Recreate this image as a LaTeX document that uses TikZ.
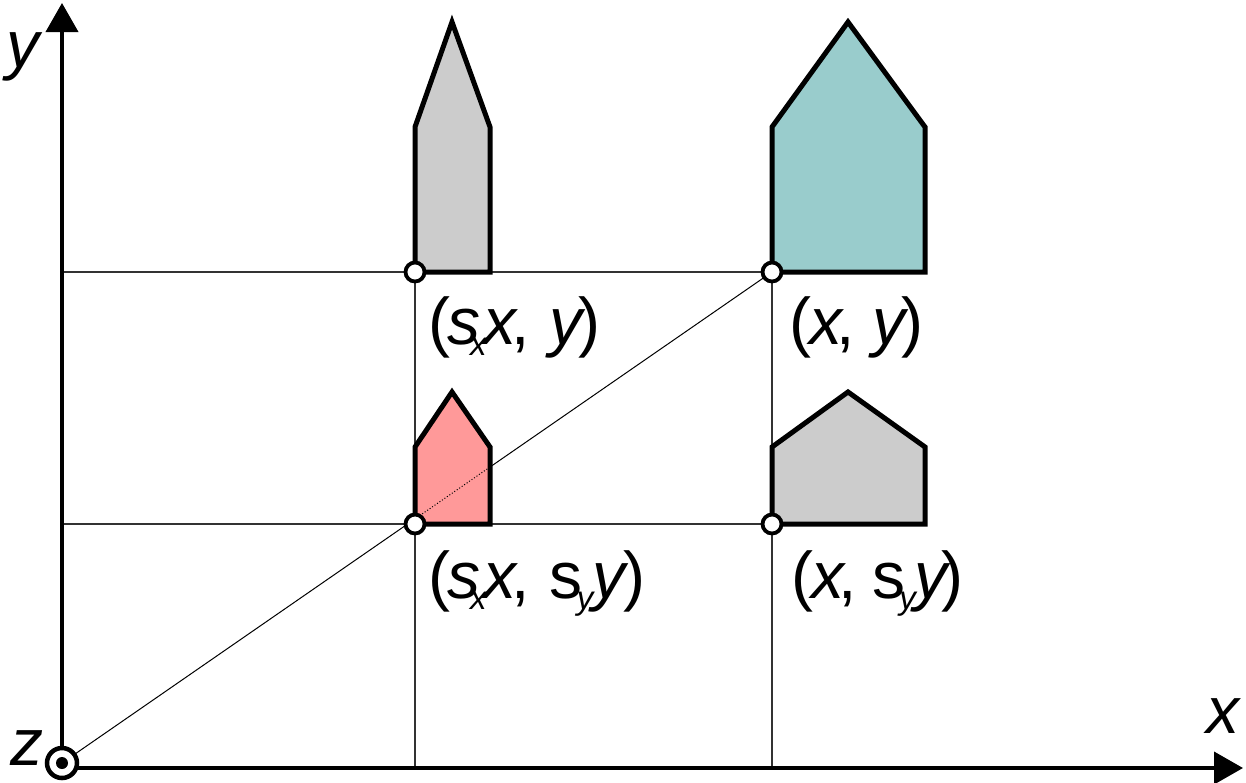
\documentclass[tikz,border=0pt]{standalone}
\usepackage{fontspec}
\setmainfont{Liberation Sans}
\usetikzlibrary{arrows.meta}
\definecolor{housegray}{HTML}{CCCCCC}
\definecolor{houseteal}{HTML}{99CCCC}
\definecolor{housepink}{HTML}{FF9999}
\newcommand\subtxt[1]{\raisebox{-11pt}{\fontsize{33}{33}\selectfont\textit{#1}}}
\begin{document}
\begin{tikzpicture}[x=1pt,y=-1pt,
  axis/.style={line width=4pt,-{Triangle[width=32pt,length=29pt]}},
  gridline/.style={line width=1.3pt, black!80},
  house/.style={line width=5pt, draw=black, line join=miter},
  pnt/.style={circle, draw=black, line width=3.8pt, fill=white, minimum size=19pt, inner sep=0pt},
  lab/.style={anchor=base west, font=\fontsize{66}{66}\selectfont, inner sep=0pt}
]
\useasboundingbox (0,0) rectangle (1246,782);
% coordinates
\coordinate (O) at (62,763);
\coordinate (xstart) at (62,768);
\coordinate (xend) at (1243,768);
\coordinate (yend) at (62,3);
\coordinate (yl1) at (62,272);
\coordinate (yl2) at (62,524);
\coordinate (xb1) at (415,768);
\coordinate (xb2) at (772,768);
\coordinate (A) at (415,272);
\coordinate (B) at (772,272);
\coordinate (C) at (415,524);
\coordinate (D) at (772,524);
% grid
\draw[gridline] (yl1) -- (B);
\draw[gridline] (yl2) -- (D);
\draw[gridline] (A) -- (xb1);
\draw[gridline] (B) -- (xb2);
\draw[line width=1pt, black] (O) -- (B);
% houses
\draw[house, fill=housegray] (415,272) -- (490,272) -- (490,127) -- (452,22) -- (415,127) -- cycle;
\draw[house, fill=houseteal] (772,272) -- (925,272) -- (925,127) -- (848,22) -- (772,127) -- cycle;
\draw[house, fill=housepink] (415,524) -- (490,524) -- (490,447) -- (452,392) -- (415,447) -- cycle;
\begin{scope}
  \clip (415,524) -- (490,524) -- (490,447) -- (452,392) -- (415,447) -- cycle;
  \draw[line width=1pt, dotted] (O) -- (B);
\end{scope}
\draw[house, fill=housegray] (772,524) -- (925,524) -- (925,447) -- (848,392) -- (772,447) -- cycle;
% axes
\draw[axis] (O) -- (yend);
\draw[axis] (xstart) -- (xend);
% points
\node[pnt] (pA) at (A) {};
\node[pnt] (pB) at (B) {};
\node[pnt] (pC) at (C) {};
\node[pnt] (pD) at (D) {};
% origin
\node[circle, draw=black, line width=4.5pt, fill=white, minimum size=30pt, inner sep=0pt] (org) at (O) {};
\fill (org.center) circle (6pt);
% axis labels
\node[lab] (zl) at (10,765) {\textit{z}};
\node[lab] (yl) at (6,67) {\textit{y}};
\node[lab] (xl) at (1206,733) {\textit{x}};
% point labels
\node[lab] (lA) at (428,344) {(\kern-3pt\textit{s}\kern-10pt\subtxt{x}\kern-4pt\textit{x}\kern-7pt,\kern20pt\textit{y}\kern-8pt)};
\node[lab] (lB) at (789,344) {(\kern-2pt\textit{x}\kern-8pt,\kern18pt\textit{y}\kern-7pt)};
\node[lab] (lC) at (428,598) {(\kern-3pt\textit{s}\kern-10pt\subtxt{x}\kern-4pt\textit{x}\kern-7pt,\kern20pt s\kern-6pt\subtxt{y}\kern-3pt\textit{y}\kern-5pt)};
\node[lab] (lD) at (791,598) {(\kern-2pt\textit{x}\kern-8pt,\kern16pt s\kern-6pt\subtxt{y}\kern-3pt\textit{y}\kern-9pt)};
\end{tikzpicture}
\end{document}
